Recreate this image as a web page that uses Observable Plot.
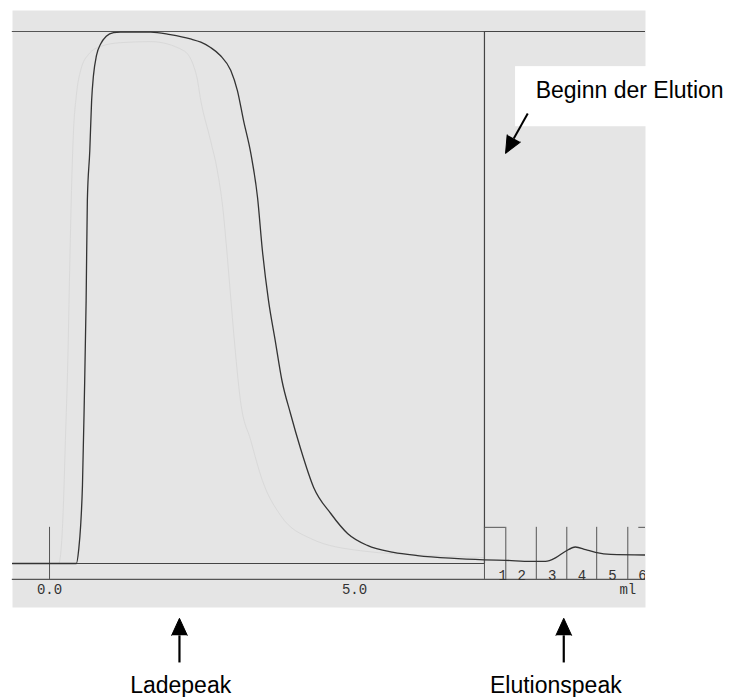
<!DOCTYPE html>
<html><head><meta charset="utf-8">
<script src="https://cdn.jsdelivr.net/npm/d3@7"></script>
<script src="https://cdn.jsdelivr.net/npm/@observablehq/plot@0.6"></script>
<style>body{margin:0;background:#fff}</style>
</head><body><div id="chart"></div>
<script>
// Main UV trace (volume in ml, signal in % of full scale)
const uvVolume = [-0.61,0.44,0.48,0.51,0.54,0.57,0.60,0.62,0.66,0.69,0.72,0.77,0.84,0.93,1.05,1.16,1.41,1.66,1.98,2.31,2.48,2.64,2.80,2.97,3.08,3.18,3.30,3.41,3.49,3.59,3.70,3.81,3.95,4.11,4.33,4.61,4.89,5.21,5.64,6.03,6.57,7.13,7.48,7.89,8.13,8.30,8.46,8.62,8.79,8.95,9.20,9.77];
const uvSignal = [0,0,2.8,7.1,14.7,30.6,49.4,68.2,77.6,87.0,91.7,95.5,97.7,99.1,99.8,99.9,99.9,99.9,99.4,98.6,98.0,97.0,95.5,92.7,88.9,83.3,77.1,68.8,58.8,49.4,41.9,34.4,28.2,21.8,14.3,9.4,5.6,3.4,2.1,1.5,1.0,0.7,0.6,0.4,0.4,1.1,2.3,3.1,2.6,2.1,1.7,1.6];
// Faint trace of an earlier run (visible through the paper)
const ghostVolume = [-0.61,0.15,0.20,0.23,0.26,0.30,0.33,0.36,0.39,0.44,0.51,0.64,0.84,1.16,1.66,2.20,2.41,2.48,2.64,2.75,2.84,2.93,3.02,3.13,3.30,3.49,3.79,4.28,5.10,6.25,7.13];
const ghostSignal = [0,0,4.3,11.8,23.1,38.2,55.1,70.1,80.5,88.0,92.7,95.7,97.2,97.9,98.1,96.4,91.7,87.0,79.5,73.9,66.9,55.6,43.2,30.6,23.1,15.6,9.0,4.7,2.4,1.5,1.1];
// Step (buffer switch) trace
const stepVolume = [-0.61, 7.13, 7.13, 9.77];
const stepSignal = [0, 0, 100, 100];
const fullScale = 100;
const startVolume = -0.61;
const endVolume = 9.77;
// Axis and fraction marks
const axisLevel = -3.0;
const markerTop = 6.8;
const injectionMark = [0];
const axisTicks = [0, 5];
const axisTickLabels = ["0.0", "5.0"];
const tickLabelLevel = -4.85;
const unitLabel = "ml";
const unitLabelPos = 9.48;
const fractionBounds = [7.13, 7.48, 7.98, 8.48, 8.97, 9.48];
const fractionLabels = ["1","2","3","4","5","6"];
const fractionLabelPos = [7.43, 7.74, 8.24, 8.73, 9.23, 9.72];
const fractionLabelLevel = -2.2;
const fractionBoxStart = [7.13, 9.66];
const fractionBoxEnd = [7.48, 9.77];
// Annotations
const calloutText = ["Ladepeak", "Elutionspeak"];
const calloutX = [2.15, 8.30];
const calloutLevel = -23.0;
const calloutArrowX = [2.13, 8.43];
const calloutArrowTail = -18.6;
const calloutArrowHead = -13.5;
const noteText = "Beginn der Elution";
const noteX = 7.97, noteY = 88.8;
const noteBox = {x1: 7.64, x2: 11.18, y1: 82.1, y2: 93.4};
const noteArrow = {x1: 7.84, y1: 84.6, x2: 7.61, y2: 79.9, angle: 208.8};

const uv = uvVolume.map((v, i) => ({v, s: uvSignal[i]}));
const ghost = ghostVolume.map((v, i) => ({v, s: ghostSignal[i]}));
const step = stepVolume.map((v, i) => ({v, s: stepSignal[i]}));
const ticks = axisTicks.map((v, i) => ({v, label: axisTickLabels[i]}));
const fracs = fractionLabels.map((label, i) => ({v: fractionLabelPos[i], label}));
const boxes = fractionBoxStart.map((a, i) => ({a, b: fractionBoxEnd[i]}));
const callouts = calloutText.map((t, i) => ({t, x: calloutX[i], ax: calloutArrowX[i]}));
const mono = "Liberation Mono, DejaVu Sans Mono, monospace";
const sans = "Liberation Sans, Arial, sans-serif";

const chart = Plot.plot({
  width: 731, height: 697,
  marginLeft: 12, marginRight: 86, marginTop: 10, marginBottom: 90,
  x: {domain: [-0.607, 9.77], axis: null},
  y: {domain: [-8.27, 103.95], axis: null},
  style: {background: "white"},
  marks: [
    Plot.frame({fill: "#e5e5e5", stroke: null}),
    Plot.line(ghost, {x: "v", y: "s", stroke: "#d9d9d9", strokeWidth: 1, curve: "monotone-x", clip: "frame"}),
    Plot.ruleY([fullScale], {x1: startVolume, x2: endVolume, stroke: "#555", strokeWidth: 1.2}),
    Plot.line(step, {x: "v", y: "s", stroke: "#444", strokeWidth: 1.2, clip: "frame"}),
    Plot.ruleY([axisLevel], {x1: startVolume, x2: endVolume, stroke: "#555", strokeWidth: 1.3}),
    Plot.ruleX(injectionMark, {y1: axisLevel, y2: markerTop, stroke: "#555", strokeWidth: 1}),
    Plot.ruleX(fractionBounds, {y1: axisLevel, y2: markerTop, stroke: "#555", strokeWidth: 1}),
    Plot.ruleY(boxes, {y: () => markerTop, x1: "a", x2: "b", stroke: "#555", strokeWidth: 1}),
    Plot.line(uv, {x: "v", y: "s", stroke: "#333", strokeWidth: 1.3, curve: "monotone-x", clip: "frame"}),
    Plot.text(ticks, {x: "v", y: tickLabelLevel, text: "label", fontFamily: mono, fontSize: 14, fill: "#333"}),
    Plot.text([unitLabel], {x: unitLabelPos, y: tickLabelLevel, text: d => d, fontFamily: mono, fontSize: 14, fill: "#333"}),
    Plot.text(fracs, {x: "v", y: fractionLabelLevel, text: "label", fontFamily: mono, fontSize: 14, fill: "#333", clip: "frame"}),
    // annotation box and arrow
    Plot.rect([noteBox], {x1: "x1", x2: "x2", y1: "y1", y2: "y2", fill: "white"}),
    Plot.text([noteText], {x: noteX, y: noteY, text: d => d, textAnchor: "start", fontFamily: sans, fontSize: 23, fill: "black"}),
    Plot.link([noteArrow], {x1: "x1", y1: "y1", x2: "x2", y2: "y2", stroke: "black", strokeWidth: 2}),
    Plot.vector([noteArrow], {x: "x2", y: "y2", rotate: "angle", length: 17, r: 7.5, shape: "spike", anchor: "start", fill: "black", fillOpacity: 1, stroke: "black", strokeWidth: 1}),
    // bottom callouts
    Plot.link(callouts, {x1: "ax", x2: "ax", y1: calloutArrowTail, y2: calloutArrowHead, stroke: "black", strokeWidth: 2.2}),
    Plot.vector(callouts, {x: "ax", y: calloutArrowHead, rotate: 0, length: 17, r: 7.8, shape: "spike", anchor: "start", fill: "black", fillOpacity: 1, stroke: "black", strokeWidth: 1}),
    Plot.text(callouts, {x: "x", y: calloutLevel, text: "t", fontFamily: sans, fontSize: 23, fill: "black"})
  ]
});
document.getElementById("chart").append(chart);
</script>
</body></html>
